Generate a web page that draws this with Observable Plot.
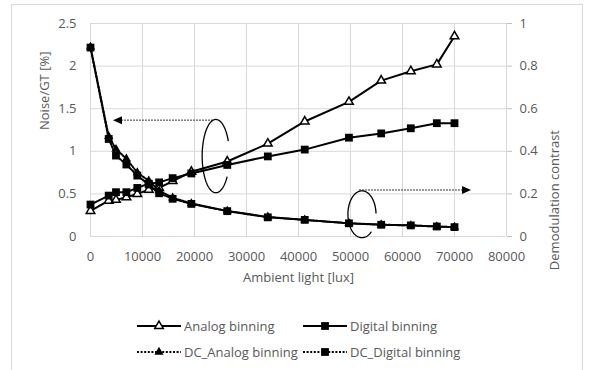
<!DOCTYPE html>
<html>
<head>
<meta charset="utf-8">
<script src="https://cdn.jsdelivr.net/npm/d3@7"></script>
<script src="https://cdn.jsdelivr.net/npm/@observablehq/plot@0.6"></script>
<style>
  body { margin: 0; background: #fff; width: 590px; height: 370px; position: relative; overflow: hidden; font-family: "Open Sans", sans-serif; }
  #frame { position: absolute; left: 11px; top: 4px; width: 572px; height: 380px; border: 1px solid #d9d9d9; box-sizing: border-box; }
  #chart { position: absolute; left: 0; top: 0; }
  .leg { position: absolute; display: flex; align-items: center; font-size: 13px; color: #595959; white-space: nowrap; }
  .leg svg { margin-right: 3px; }
</style>
</head>
<body>
<div id="frame"></div>
<div id="chart"></div>
<div id="legend"></div>
<script>
// ---- data ----
const lux       = [0, 3500, 4900, 6900, 9000, 11200, 13200, 15800, 19400, 26300, 34100, 41200, 49700, 55900, 61600, 66600, 70000];
const analog    = [0.30, 0.42, 0.43, 0.46, 0.50, 0.55, 0.57, 0.65, 0.76, 0.88, 1.09, 1.35, 1.58, 1.83, 1.94, 2.02, 2.35];
const digital   = [0.375, 0.48, 0.52, 0.52, 0.57, 0.62, 0.635, 0.685, 0.74, 0.84, 0.94, 1.02, 1.16, 1.21, 1.27, 1.33, 1.33];
const dcAnalog  = [0.89, 0.47, 0.41, 0.365, 0.30, 0.262, 0.215, 0.182, 0.155, 0.12, 0.092, 0.078, 0.062, 0.056, 0.052, 0.047, 0.044];
const dcDigital = [0.887, 0.458, 0.38, 0.338, 0.286, 0.244, 0.203, 0.177, 0.153, 0.119, 0.09, 0.078, 0.062, 0.055, 0.052, 0.047, 0.044];
const seriesNames = ["Analog binning", "Digital binning", "DC_Analog binning", "DC_Digital binning"];
const xTicks = [0, 10000, 20000, 30000, 40000, 50000, 60000, 70000, 80000];
const leftTicks = [0, 0.5, 1, 1.5, 2, 2.5];
const rightTicks = [0, 0.2, 0.4, 0.6, 0.8, 1];
const leftMax = 2.5, rightMax = 1;
const ratio = leftMax / rightMax;

// annotations (data units)
const leftArrow = {y: 1.36, x1: 23650, x2: 4420};          // left axis units
const rightArrow = {y: 0.216, x1: 51730, x2: 73270};       // right axis units
const leftEllipse = {cx: 24200, cy: 0.938, rx: 2630, ry: 0.43, a0: 34, a1: 337};   // left units
const rightEllipse = {cx: 52300, cy: 0.102, rx: 2700, ry: 0.11, a0: 48, a1: 358};  // right units

const mk = (ys, k = 1) => lux.map((x, i) => ({x, y: ys[i] * k}));
const A = mk(analog), D = mk(digital), DA = mk(dcAnalog, ratio), DD = mk(dcDigital, ratio);

const textColor = "#595959";
const gridColor = "#d9d9d9";

const plot = Plot.plot({
  width: 590,
  height: 300,
  marginLeft: 90,
  marginRight: 84,
  marginTop: 23,
  marginBottom: 64,
  style: {fontFamily: "Open Sans", fontSize: "13px", color: textColor, background: "transparent"},
  x: {domain: [0, 80000]},
  y: {domain: [0, leftMax]},
  marks: [
    Plot.gridX(xTicks, {stroke: gridColor, strokeOpacity: 1}),
    Plot.gridY(leftTicks, {stroke: gridColor, strokeOpacity: 1}),
    Plot.axisX(xTicks, {tickSize: 0, tickPadding: 15, tickFormat: d3.format("d"), label: null}),
    Plot.axisY(leftTicks, {anchor: "left", tickSize: 0, tickPadding: 14, tickFormat: d => String(d), label: null}),
    Plot.axisY(rightTicks.map(t => t * ratio), {anchor: "right", tickSize: 5, tickPadding: 8, stroke: "#bfbfbf", fill: textColor,
      tickFormat: d => String(+(d / ratio).toFixed(1)), label: null}),
    Plot.text(["Noise/GT [%]"], {frameAnchor: "left", dx: -46, rotate: -90, fill: textColor, fontSize: 13}),
    Plot.text(["Demodulation contrast"], {frameAnchor: "right", dx: 48, rotate: -90, fill: textColor, fontSize: 13}),
    Plot.text(["Ambient light [lux]"], {frameAnchor: "bottom", dy: 45, fill: textColor, fontSize: 13}),
    // Analog binning
    Plot.line(A, {x: "x", y: "y", stroke: "black", strokeWidth: 2}),
    Plot.dot(A, {x: "x", y: "y", symbol: "triangle", r: 3.2, fill: "white", stroke: "black", strokeWidth: 1.5}),
    // Digital binning
    Plot.line(D, {x: "x", y: "y", stroke: "black", strokeWidth: 2}),
    Plot.dot(D, {x: "x", y: "y", symbol: "square", r: 4.4, fill: "black", stroke: "none"}),
    // DC_Analog binning
    Plot.line(DA, {x: "x", y: "y", stroke: "black", strokeWidth: 2, strokeDasharray: "2,1.6"}),
    Plot.dot(DA, {x: "x", y: "y", symbol: "triangle", r: 3.4, fill: "black", stroke: "none"}),
    // DC_Digital binning
    Plot.line(DD, {x: "x", y: "y", stroke: "black", strokeWidth: 2, strokeDasharray: "2,1.6"}),
    Plot.dot(DD, {x: "x", y: "y", symbol: "square", r: 4.4, fill: "black", stroke: "none"})
  ]
});
document.getElementById("chart").appendChild(plot);

// ---- annotations drawn through the plot's own scales ----
const sx = plot.scale("x"), sy = plot.scale("y");
const svg = d3.select(plot);
const g = svg.append("g");
function arrow(a, k) {
  const y = sy.apply(a.y * k), x1 = sx.apply(a.x1), x2 = sx.apply(a.x2);
  const dir = Math.sign(x2 - x1), len = 9, hw = 4;
  g.append("line").attr("x1", x1).attr("x2", x2 - dir * len).attr("y1", y).attr("y2", y)
    .attr("stroke", "#333").attr("stroke-width", 1).attr("stroke-dasharray", "2,1");
  g.append("path").attr("d", `M${x2},${y}L${x2 - dir * len},${y - hw}L${x2 - dir * len},${y + hw}Z`).attr("fill", "black");
}
function ellipse(e, k) {
  const cx = sx.apply(e.cx), cy = sy.apply(e.cy * k);
  const rx = sx.apply(e.cx + e.rx) - cx, ry = cy - sy.apply((e.cy + e.ry) * k);
  const pts = d3.range(e.a0, e.a1 + 1, 2).map(a => [cx + rx * Math.cos(a * Math.PI / 180), cy + ry * Math.sin(a * Math.PI / 180)]);
  g.append("path").attr("d", d3.line()(pts)).attr("fill", "none").attr("stroke", "black").attr("stroke-width", 1.3);
}
arrow(leftArrow, 1);
arrow(rightArrow, ratio);
ellipse(leftEllipse, 1);
ellipse(rightEllipse, ratio);

// ---- legend ----
const legendItems = [
  {name: seriesNames[0], dash: null, sym: "tri-open", left: 137, top: 326},
  {name: seriesNames[1], dash: null, sym: "square", left: 303, top: 326},
  {name: seriesNames[2], dash: "2,1.6", sym: "tri", left: 137, top: 352},
  {name: seriesNames[3], dash: "2,1.6", sym: "square", left: 303, top: 352}
];
const legend = document.getElementById("legend");
for (const it of legendItems) {
  const div = document.createElement("div");
  div.className = "leg";
  div.style.left = it.left + "px";
  div.style.top = (it.top - 9) + "px";
  div.style.height = "18px";
  const s = d3.create("svg").attr("width", 44).attr("height", 14);
  s.append("line").attr("x1", 0).attr("x2", 44).attr("y1", 7).attr("y2", 7).attr("stroke", "black")
    .attr("stroke-width", 2).attr("stroke-dasharray", it.dash);
  const symType = it.sym === "square" ? d3.symbolSquare : d3.symbolTriangle;
  const size = it.sym === "square" ? Math.PI * 4.4 * 4.4 : Math.PI * (it.sym === "tri" ? 3.4 * 3.4 : 3.2 * 3.2);
  s.append("path").attr("transform", "translate(22,7)").attr("d", d3.symbol(symType, size)())
    .attr("fill", it.sym === "tri-open" ? "white" : "black")
    .attr("stroke", it.sym === "tri-open" ? "black" : "none").attr("stroke-width", 1.5);
  div.appendChild(s.node());
  const span = document.createElement("span");
  span.textContent = it.name;
  div.appendChild(span);
  legend.appendChild(div);
}
</script>
</body>
</html>
